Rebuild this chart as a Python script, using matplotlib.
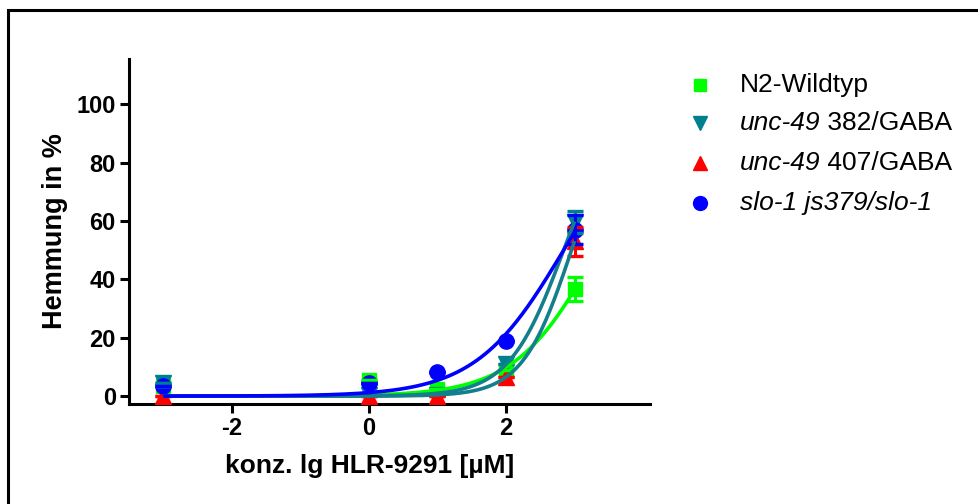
import numpy as np
import matplotlib
matplotlib.use("Agg")
import matplotlib.pyplot as plt
from matplotlib.patches import Rectangle
from matplotlib.lines import Line2D

plt.rcParams['font.family'] = ['Liberation Sans', 'DejaVu Sans']
plt.rcParams['axes.unicode_minus'] = False

# log10 concentration of HLR-9291 [µM]
conc = [-3, 0, 1, 2, 3]

# inhibition in % (mean) and error (SEM)
n2_mean = [3.5, 5.5, 2.5, 9.0, 36.7]
n2_err = [0.0, 0.0, 0.0, 0.0, 4.2]
u382_mean = [4.5, 0.5, 0.5, 11.0, 59.7]
u382_err = [0.0, 0.0, 0.0, 0.0, 3.7]
u407_mean = [0.0, 0.0, 0.0, 6.6, 53.0]
u407_err = [0.0, 0.0, 0.0, 0.0, 5.0]
slo_mean = [3.5, 4.4, 8.3, 18.9, 57.0]
slo_err = [0.0, 0.0, 0.0, 0.0, 5.0]

series = [
    ("N2", n2_mean, n2_err, "#00ff00", "s", 10, "#00ff00"),
    ("382", u382_mean, u382_err, "#00808f", "v", 11, "#137f8c"),
    ("407", u407_mean, u407_err, "#ff0000", "^", 11, "#137f8c"),
    ("slo", slo_mean, slo_err, "#0000ff", "o", 11, "#0000ff"),
]


def fit_hill(x, y):
    """Least-squares fit of a log(agonist) vs. response curve, bottom 0, top 100."""
    x = np.asarray(x, float)
    y = np.asarray(y, float)
    ec = np.arange(1.0, 6.0, 0.005)
    hs = np.arange(0.2, 3.0, 0.005)
    E, H = np.meshgrid(ec, hs, indexing="ij")
    pred = 100.0 / (1.0 + 10 ** ((E[..., None] - x) * H[..., None]))
    sse = ((pred - y) ** 2).sum(axis=-1)
    i, j = np.unravel_index(np.argmin(sse), sse.shape)
    return ec[i], hs[j]


fig = plt.figure(figsize=(9.79, 5.04), dpi=100)
ax = fig.add_axes([129 / 979, 1 - 404 / 504, 521 / 979, 345 / 504])

# markers, then error bars on top of them
for k, (name, m, e, col, mk, ms, _) in enumerate(series):
    ax.plot(conc, m, ls="none", marker=mk, color=col, ms=ms, zorder=3)
for k, (name, m, e, col, mk, ms, _) in enumerate(series):
    ax.errorbar(conc, m, yerr=e, fmt="none", ecolor=col,
                elinewidth=2.2, capsize=5.5, capthick=2.4, zorder=3.5)

# fitted curves
xs = np.linspace(conc[0], conc[-1], 300)
for name, m, e, col, mk, ms, lc in series:
    logec, h = fit_hill(conc, m)
    ax.plot(xs, 100.0 / (1.0 + 10 ** ((logec - xs) * h)), color=lc, lw=2.6,
            zorder=4, solid_capstyle="butt")

ax.set_xlim(-3.5, 4.1)
ax.set_ylim(-2.7, 115.5)
ax.set_xticks([-2, 0, 2])
ax.set_yticks([0, 20, 40, 60, 80, 100])
for s in ("top", "right"):
    ax.spines[s].set_visible(False)
for s in ("left", "bottom"):
    ax.spines[s].set_linewidth(2.2)
ax.tick_params(direction="out", length=6.5, width=2.2, pad=3,
               labelsize=17)
for lab in ax.get_xticklabels() + ax.get_yticklabels():
    lab.set_fontweight("bold")

ax.set_xlabel("konz. lg HLR-9291 [µM]", fontsize=19, fontweight="bold")
ax.set_ylabel("Hemmung in %", fontsize=19.5, fontweight="bold")
ax.xaxis.set_label_coords((370 - 129) / 521, -0.145)
ax.yaxis.set_label_coords((68 - 129) / 521, 0.5)

# legend drawn in pixel coordinates
lax = fig.add_axes([0, 0, 1, 1], facecolor="none")
lax.set_xlim(0, 979)
lax.set_ylim(504, 0)
lax.axis("off")
rows = [85, 123, 163, 203]
fs = 19
for (name, m, e, col, mk, ms, _), y in zip(series, rows):
    lax.add_line(Line2D([700], [y], marker=mk, color=col, ms=ms - 1, ls="none"))

lax.text(740, rows[0], "N2-Wildtyp", fontsize=fs, va="center")
t1 = lax.text(740, rows[1], "unc-49", fontsize=fs, va="center", style="italic")
lax.annotate(" 382/GABA", xy=(1, 0), xycoords=t1, fontsize=fs, va="bottom")
t2 = lax.text(740, rows[2], "unc-49", fontsize=fs, va="center", style="italic")
lax.annotate(" 407/GABA", xy=(1, 0), xycoords=t2, fontsize=fs, va="bottom")
lax.text(740, rows[3], "slo-1 js379/slo-1", fontsize=fs, va="center",
         style="italic")

# outer frame
fig.patches.append(Rectangle((8 / 979, -0.2), 1.2, 0.98 + 0.2,
                             transform=fig.transFigure, fill=False,
                             lw=2.2, ec="black"))

fig.savefig("out.png", dpi=100)
